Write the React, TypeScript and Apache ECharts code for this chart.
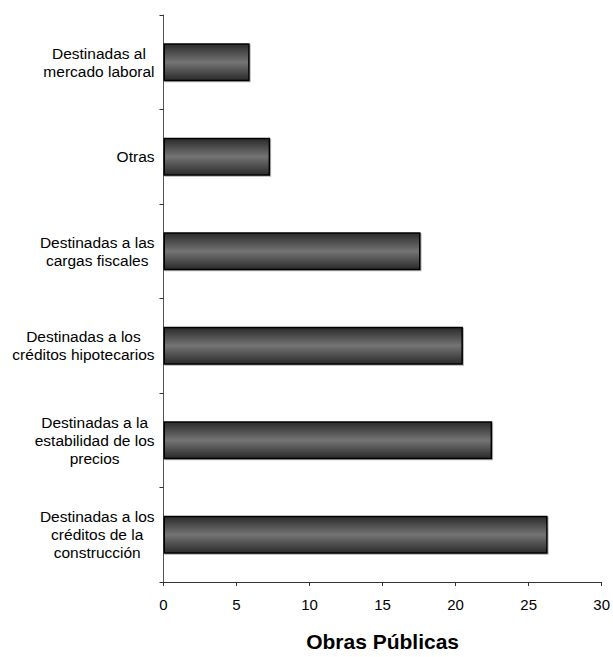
import React, { useEffect, useRef } from "react";
import * as echarts from "echarts";

const categories: string[] = [
  "Destinadas al\nmercado laboral",
  "Otras",
  "Destinadas a las\ncargas fiscales",
  "Destinadas a los\ncréditos hipotecarios",
  "Destinadas a la\nestabilidad de los\nprecios",
  "Destinadas a los\ncréditos de la\nconstrucción",
];
const values: number[] = [5.9, 7.3, 17.6, 20.5, 22.5, 26.3];
const xTicks = { min: 0, max: 30, interval: 5 };
const axisTitle = "Obras Públicas";

const FONT = "'Liberation Sans', Arial, sans-serif";

export default function App() {
  const ref = useRef<HTMLDivElement>(null);
  useEffect(() => {
    if (!ref.current) return;
    const chart = echarts.init(ref.current, undefined, { renderer: "svg" });
    chart.setOption({
      animation: false,
      backgroundColor: "#ffffff",
      grid: { left: 163.5, right: 9, top: 15, bottom: 72, containLabel: false },
      xAxis: {
        type: "value",
        min: xTicks.min,
        max: xTicks.max,
        interval: xTicks.interval,
        splitLine: { show: false },
        axisLine: { show: true, lineStyle: { color: "#333", width: 1 } },
        axisTick: { show: true, length: 4, lineStyle: { color: "#333" } },
        axisLabel: { color: "#000", fontSize: 15, fontFamily: FONT, margin: 15 },
        name: axisTitle,
        nameLocation: "middle",
        nameGap: 49,
        nameTextStyle: { color: "#000", fontSize: 21, fontWeight: "bold", fontFamily: FONT },
      },
      yAxis: {
        type: "category",
        data: categories,
        inverse: true,
        axisLine: { show: true, lineStyle: { color: "#555", width: 1 } },
        axisTick: { show: true, length: 4, alignWithLabel: false, lineStyle: { color: "#333" } },
        axisLabel: {
          margin: 9,
          align: "right",
          interval: 0,
          fontSize: 15.5,
          fontFamily: FONT,
          color: "#000",
          formatter: (v: string) => v.split("\n").map((l) => `{c|${l}}`).join("\n"),
          rich: {
            c: { align: "center", fontSize: 15.5, lineHeight: 18, fontFamily: FONT, color: "#000" },
          },
        },
      },
      series: [
        {
          type: "bar",
          data: values,
          barWidth: 38,
          itemStyle: {
            color: new echarts.graphic.LinearGradient(0, 0, 0, 1, [
              { offset: 0, color: "#2a2a2a" },
              { offset: 0.5, color: "#747474" },
              { offset: 1, color: "#2a2a2a" },
            ]),
            borderColor: "#000",
            borderWidth: 1.5,
            shadowColor: "rgba(0,0,0,0.3)",
            shadowOffsetX: 1,
            shadowOffsetY: 1,
            shadowBlur: 0,
          },
        },
      ],
    });
    return () => chart.dispose();
  }, []);
  return (
    <div
      ref={ref}
      style={{ position: "fixed", left: 0, top: 0, width: 613, height: 657 }}
    />
  );
}
